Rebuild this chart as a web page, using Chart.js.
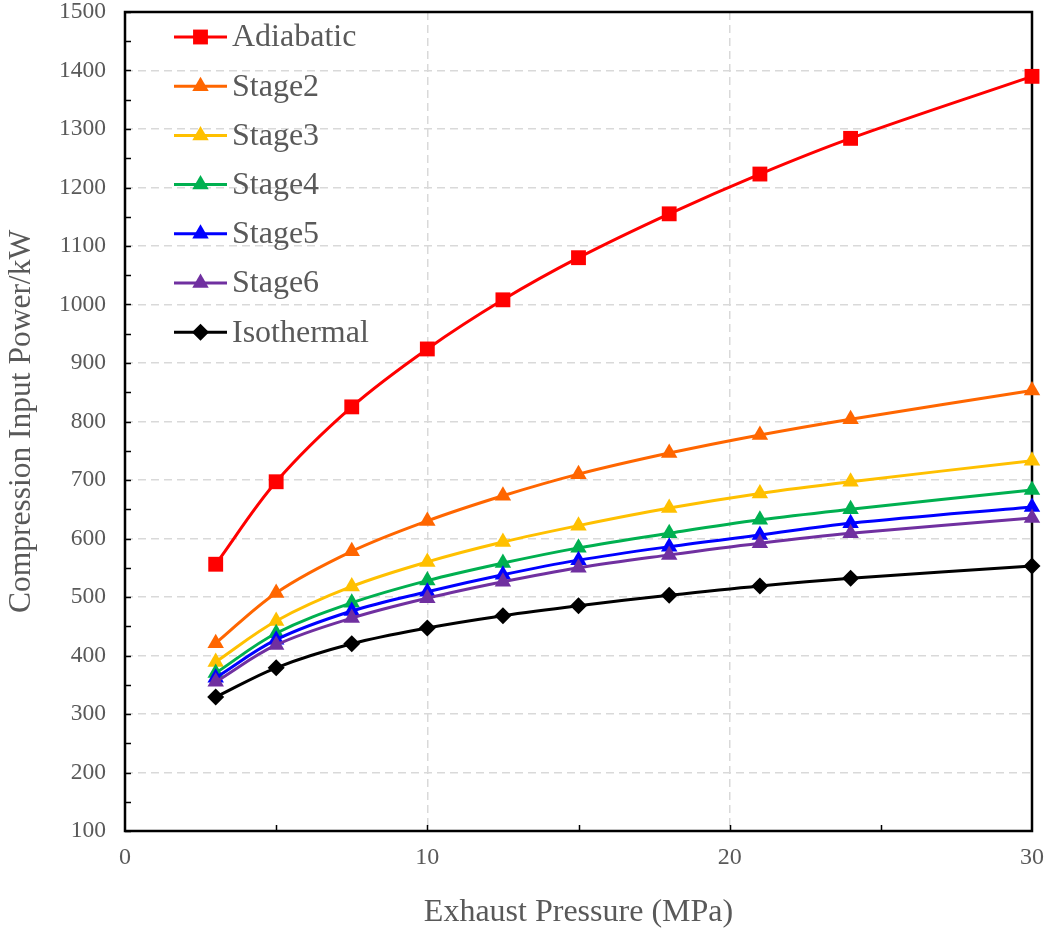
<!DOCTYPE html>
<html><head><meta charset="utf-8">
<script src="https://cdn.jsdelivr.net/npm/chart.js@4/dist/chart.umd.min.js"></script>
<style>html,body{margin:0;padding:0;background:#fff}</style>
</head><body><canvas id="c" width="1054" height="937"></canvas>
<script>
// ---- data ----
const pressures   = [3, 5, 7.5, 10, 12.5, 15, 18, 21, 24, 30];
const adiabatic   = [556, 697, 825, 924, 1008, 1080, 1155, 1223, 1284, 1390];
const stage2      = [421, 507, 578, 630, 673, 710, 746, 777, 804, 853];
const stage3      = [389, 459, 518, 560, 594, 622, 652, 677, 697, 733];
const stage4      = [370, 438, 490, 528, 558, 584, 609, 632, 650, 683];
const stage5      = [362, 427, 476, 509, 538, 563, 586, 606, 626, 654];
const stage6      = [355, 418, 464, 498, 526, 550, 572, 592, 609, 635];
const isothermal  = [329, 379, 420, 447, 468, 485, 503, 519, 532, 553];
const seriesNames = ['Adiabatic', 'Stage2', 'Stage3', 'Stage4', 'Stage5', 'Stage6', 'Isothermal'];
const xTickLabels = [0, 10, 20, 30];
const yTickLabels = [100, 200, 300, 400, 500, 600, 700, 800, 900, 1000, 1100, 1200, 1300, 1400, 1500];
const xTitle = 'Exhaust Pressure (MPa)';
const yTitle = 'Compression Input Power/kW';

// ---- styles ----
const seriesValues = [adiabatic, stage2, stage3, stage4, stage5, stage6, isothermal];
const colors = ['#FF0000', '#FF6600', '#FFC000', '#00B050', '#0000FF', '#7030A0', '#000000'];
const markers = ['rect', 'triangle', 'triangle', 'triangle', 'triangle', 'triangle', 'rectRot'];
const radii = [10.5, 9.5, 9.5, 9.5, 9.5, 9.5, 8.5];
const TEXT = '#595959';
const FONT = 'Liberation Serif';

Chart.defaults.font.family = FONT;
Chart.defaults.color = TEXT;

const datasets = seriesNames.map((name, i) => ({
  label: name,
  data: pressures.map((p, j) => ({x: p, y: seriesValues[i][j]})),
  borderColor: colors[i],
  backgroundColor: colors[i],
  borderWidth: 3,
  pointStyle: markers[i],
  pointRadius: radii[i],
  pointHoverRadius: radii[i],
  pointBorderWidth: 0,
  tension: 0.35,
  clip: false,
  order: seriesNames.length - i
}));

function drawMarker(ctx, style, x, y, r, color) {
  ctx.save();
  ctx.fillStyle = color;
  ctx.beginPath();
  if (style === 'rect') {
    const s = Math.SQRT1_2 * r;
    ctx.rect(x - s, y - s, 2 * s, 2 * s);
  } else if (style === 'triangle') {
    ctx.moveTo(x, y - r);
    ctx.lineTo(x + r * Math.sin(2 * Math.PI / 3), y - r * Math.cos(2 * Math.PI / 3));
    ctx.lineTo(x + r * Math.sin(4 * Math.PI / 3), y - r * Math.cos(4 * Math.PI / 3));
  } else {
    ctx.moveTo(x, y - r); ctx.lineTo(x + r, y); ctx.lineTo(x, y + r); ctx.lineTo(x - r, y);
  }
  ctx.closePath();
  ctx.fill();
  ctx.restore();
}

const framePlugin = {
  id: 'frame',
  beforeDatasetsDraw(chart) {
    const {ctx, chartArea: a, scales} = chart;
    ctx.save();
    ctx.strokeStyle = '#000';
    ctx.lineWidth = 1.5;
    ctx.beginPath();
    scales.y.ticks.forEach(t => {
      const py = Math.round(scales.y.getPixelForValue(t.value)) + 0.5;
      ctx.moveTo(a.left, py); ctx.lineTo(a.left + 6, py);
    });
    scales.x.ticks.forEach(t => {
      if (t.value === scales.x.min || t.value === scales.x.max) return;
      const px = Math.round(scales.x.getPixelForValue(t.value)) + 0.5;
      ctx.moveTo(px, a.bottom); ctx.lineTo(px, a.bottom - 6);
    });
    ctx.stroke();
    ctx.lineWidth = 2.5;
    ctx.strokeRect(a.left, a.top, a.right - a.left, a.bottom - a.top);
    ctx.restore();
  },
  afterDraw(chart) {
    const {ctx, chartArea: a} = chart;
    ctx.save();
    ctx.font = '32px "' + FONT + '"';
    ctx.textBaseline = 'middle';
    ctx.textAlign = 'left';
    chart.data.datasets.forEach((ds, i) => {
      const y = a.top + 25 + i * 49.2;
      const x0 = a.left + 49, x1 = a.left + 102, xm = (x0 + x1) / 2;
      ctx.strokeStyle = ds.borderColor;
      ctx.lineWidth = 3;
      ctx.beginPath(); ctx.moveTo(x0, y); ctx.lineTo(x1, y); ctx.stroke();
      drawMarker(ctx, ds.pointStyle, xm, y, ds.pointRadius, ds.borderColor);
      ctx.fillStyle = TEXT;
      ctx.fillText(ds.label, a.left + 107, y + 1);
    });
    ctx.restore();
  }
};

new Chart(document.getElementById('c'), {
  type: 'line',
  data: {datasets},
  options: {
    responsive: false,
    animation: false,
    devicePixelRatio: 1,
    layout: {padding: {top: 12, right: 22, left: 0, bottom: 0}},
    plugins: {legend: {display: false}, tooltip: {enabled: false}},
    scales: {
      x: {
        type: 'linear', min: 0, max: 30,
        afterFit(s) { s.height = 106; s.paddingLeft = 0; s.paddingRight = 0; },
        ticks: {
          stepSize: 5, autoSkip: false, padding: 12, maxRotation: 0,
          font: {size: 24}, color: TEXT,
          callback: v => xTickLabels.includes(v) ? String(v) : ''
        },
        grid: {
          drawTicks: false, lineWidth: 1.5,
          color: c => (c.tick && (c.tick.value === 10 || c.tick.value === 20)) ? '#d9d9d9' : 'rgba(0,0,0,0)'
        },
        border: {display: false, dash: [8, 5]},
        title: {display: true, text: xTitle, font: {size: 32}, color: TEXT, padding: {top: 5, bottom: 5}}
      },
      y: {
        type: 'linear', min: 100, max: 1500,
        afterFit(s) { s.width = 125; s.paddingTop = 0; s.paddingBottom = 0; },
        ticks: {
          stepSize: 50, autoSkip: false, padding: 19,
          font: {size: 23.5}, color: TEXT,
          callback: v => yTickLabels.includes(v) ? String(v) : ''
        },
        grid: {
          drawTicks: false, lineWidth: 1.5,
          color: c => (c.tick && c.tick.value % 100 === 0 && c.tick.value > 100 && c.tick.value < 1500) ? '#d9d9d9' : 'rgba(0,0,0,0)'
        },
        border: {display: false, dash: [8, 5]},
        title: {display: true, text: yTitle, font: {size: 31.5}, color: TEXT, padding: {top: 3, bottom: 3}}
      }
    }
  },
  plugins: [framePlugin]
});
</script>
</body></html>
